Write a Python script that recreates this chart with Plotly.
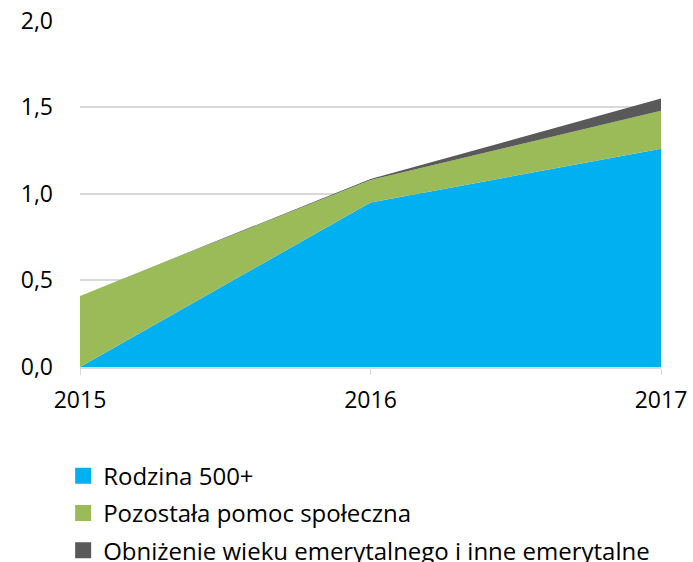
import plotly.graph_objects as go

years = [2015, 2016, 2017]
year_labels = ["2015", "2016", "2017"]
rodzina = [0.0, 0.95, 1.26]
pozostala = [0.41, 0.13, 0.22]
obnizenie = [0.0, 0.006, 0.07]
series_names = ["Rodzina 500+", "Pozostała pomoc społeczna",
                "Obniżenie wieku emerytalnego i inne emerytalne"]
colors = ["#00B0F0", "#9BBB59", "#595959"]
y_ticks = [0.0, 0.5, 1.0, 1.5, 2.0]

fig = go.Figure()
for name, vals, col in zip(series_names, [rodzina, pozostala, obnizenie], colors):
    fig.add_trace(go.Scatter(x=years, y=vals, stackgroup="one", mode="lines",
                             line=dict(width=0, color=col), fillcolor=col,
                             name=name, showlegend=False, hoverinfo="skip"))
for i, (name, col) in enumerate(zip(series_names, colors)):
    fig.add_trace(go.Scatter(x=[None], y=[None], mode="markers", name=name,
                             legendgroup=f"g{i}",
                             marker=dict(symbol="square", size=16, color=col)))

font = "Open Sans, Noto Sans, sans-serif"
fig.update_layout(
    width=693, height=562,
    margin=dict(l=80, r=32, t=20, b=195, autoexpand=False),
    paper_bgcolor="white", plot_bgcolor="white",
    separators=",.",
    font=dict(family=font, size=23, color="#000000"),
    xaxis=dict(range=[2015, 2017], tickvals=years, ticktext=year_labels,
               showgrid=False, zeroline=False, showline=True,
               linecolor="#D9D9D9", linewidth=1.5,
               ticks="outside", ticklen=6, tickcolor="#D9D9D9",
               ticklabelstandoff=6, automargin=False,
               tickfont=dict(size=23)),
    yaxis=dict(range=[0, 2.004], tickvals=y_ticks, tickformat=".1f",
               showgrid=True, gridcolor="#D9D9D9", gridwidth=1.5,
               zeroline=False, showline=False, ticks="",
               ticklabelstandoff=26, automargin=False,
               tickfont=dict(size=23)),
    legend=dict(orientation="v", x=-0.029, y=-0.25, xanchor="left", yanchor="top",
                traceorder="grouped", tracegroupgap=3,
                font=dict(size=24, family=font), bgcolor="rgba(0,0,0,0)"),
)

fig.write_html("out.html", config={"displayModeBar": False},
               post_script="document.body.style.margin='0';document.body.style.overflow='hidden';")
